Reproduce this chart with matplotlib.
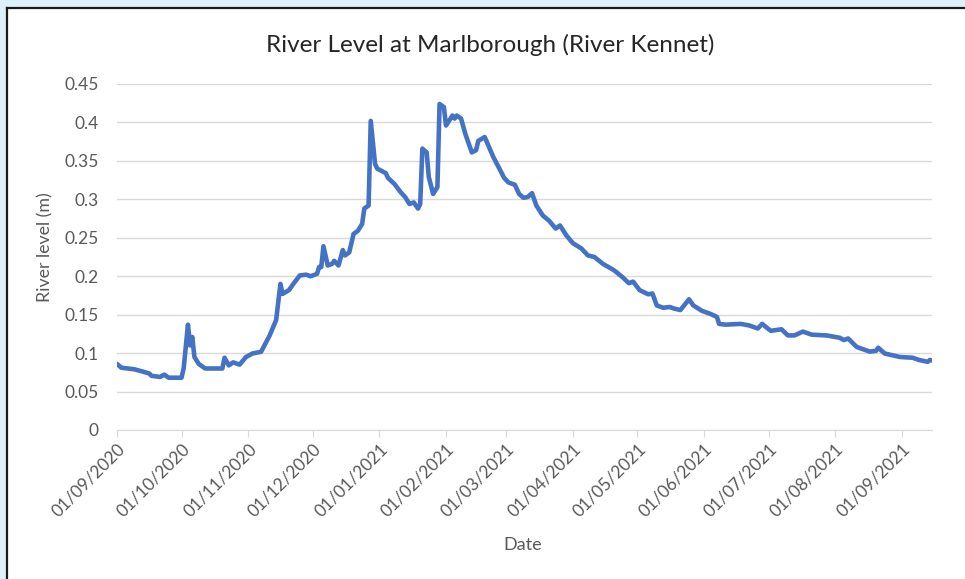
import datetime as dt
import matplotlib
matplotlib.use("Agg")
import matplotlib.pyplot as plt
import matplotlib.dates as mdates
from matplotlib.patches import Rectangle
from matplotlib.lines import Line2D

# days after 01/09/2020, and river level (m)
start = dt.date(2020, 9, 1)
days = [0, 2, 8, 12, 15, 16, 20, 22, 24, 30, 31, 33, 34, 35, 36, 38, 41, 49, 50, 52,
        54, 57, 60, 63, 67, 69, 71, 74, 76, 77, 80, 82, 85, 88, 90, 93, 94, 95, 96, 98,
        100, 101, 103, 105, 106, 108, 110, 112, 114, 115, 117, 118, 120, 121, 125, 126, 129, 132, 134, 136,
        138, 140, 141, 142, 144, 145, 147, 149, 150, 152, 153, 156, 157, 158, 160, 162, 165, 167, 168, 171,
        173, 175, 178, 180, 182, 185, 187, 189, 191, 193, 195, 198, 201, 204, 206, 209, 212, 216, 219, 222,
        226, 231, 235, 238, 240, 243, 247, 249, 251, 254, 257, 259, 262, 266, 268, 272, 276, 279, 280, 283,
        290, 294, 298, 300, 304, 309, 312, 315, 319, 323, 330, 336, 338, 340, 344, 350, 353, 354, 357, 364,
        370, 373, 377, 378, 380]
levels = [0.086, 0.081, 0.079, 0.076, 0.0735, 0.0705, 0.069, 0.072, 0.068, 0.068, 0.080, 0.137, 0.110, 0.121, 0.095, 0.086, 0.080, 0.080, 0.094, 0.084,
          0.088, 0.085, 0.095, 0.0995, 0.1017, 0.1125, 0.123, 0.143, 0.190, 0.177, 0.182, 0.190, 0.201, 0.202, 0.200, 0.203, 0.212, 0.212, 0.239, 0.214,
          0.216, 0.220, 0.214, 0.234, 0.227, 0.231, 0.255, 0.259, 0.268, 0.288, 0.292, 0.402, 0.346, 0.340, 0.334, 0.328, 0.320, 0.309, 0.303, 0.294,
          0.296, 0.288, 0.294, 0.366, 0.361, 0.329, 0.307, 0.316, 0.424, 0.420, 0.396, 0.409, 0.405, 0.409, 0.405, 0.385, 0.361, 0.364, 0.376, 0.381,
          0.368, 0.355, 0.339, 0.328, 0.322, 0.319, 0.307, 0.302, 0.303, 0.308, 0.292, 0.279, 0.272, 0.262, 0.266, 0.253, 0.243, 0.236, 0.227, 0.225,
          0.216, 0.208, 0.199, 0.191, 0.193, 0.182, 0.1765, 0.1775, 0.162, 0.159, 0.160, 0.158, 0.156, 0.170, 0.162, 0.155, 0.151, 0.147, 0.138, 0.137,
          0.138, 0.136, 0.132, 0.138, 0.129, 0.131, 0.123, 0.123, 0.128, 0.124, 0.123, 0.120, 0.117, 0.119, 0.108, 0.102, 0.103, 0.107, 0.0995, 0.095,
          0.094, 0.091, 0.0887, 0.091, 0.090]
yticks = [0, 0.05, 0.1, 0.15, 0.2, 0.25, 0.3, 0.35, 0.4, 0.45]
ytick_labels = ["0", "0.05", "0.1", "0.15", "0.2", "0.25", "0.3", "0.35", "0.4", "0.45"]

dates = [start + dt.timedelta(days=d) for d in days]

plt.rcParams['font.family'] = ['Lato', 'DejaVu Sans']
grey = '#595959'
W, H = 965, 579

fig = plt.figure(figsize=(W / 100, H / 100), dpi=100)
fig.patch.set_facecolor('#DEF0FA')
# white chart box with dark border on the visible left/top edges
fig.patches.append(Rectangle((6 / W, -0.1), 1.1, 1 - 8 / H + 0.1, transform=fig.transFigure,
                             facecolor='white', edgecolor='none', zorder=-5))
fig.lines.append(Line2D([7 / W, 7 / W], [0, 1 - 8 / H], transform=fig.transFigure, color='#1a1a1a', lw=1.6, zorder=-4))
fig.lines.append(Line2D([7 / W, 1], [1 - 8 / H, 1 - 8 / H], transform=fig.transFigure, color='#1a1a1a', lw=1.6, zorder=-4))

ax = fig.add_axes([117 / W, 1 - 430 / H, (932 - 117) / W, (430 - 84) / H], zorder=2)
ax.set_facecolor('none')
ax.plot(dates, levels, color='#4472C4', lw=3.3, solid_joinstyle='round', solid_capstyle='round', zorder=3)

ax.set_ylim(0, 0.45)
ax.set_xlim(start, dt.date(2021, 9, 15))
ax.set_yticks(yticks)
ax.set_yticklabels(ytick_labels)
ax.yaxis.grid(True, color='#D9D9D9', lw=1.0)
ax.set_axisbelow(True)

xt = [dt.date(2020 + (8 + i) // 12, (8 + i) % 12 + 1, 1) for i in range(13)]
ax.set_xticks(xt)
ax.xaxis.set_major_formatter(mdates.DateFormatter('%d/%m/%Y'))
for s in ['top', 'right', 'left']:
    ax.spines[s].set_visible(False)
ax.spines['bottom'].set_color('#D9D9D9')
ax.tick_params(axis='y', length=0, pad=13, labelsize=12.5, labelcolor=grey)
ax.tick_params(axis='x', length=5, color='#D9D9D9', pad=3, labelsize=12.5, labelcolor=grey)
plt.setp(ax.get_xticklabels(), rotation=45, ha='right', rotation_mode='anchor')

fig.text(490 / W, 1 - 45 / H, 'River Level at Marlborough (River Kennet)', fontsize=17.5,
         color='#262626', ha='center', va='center')
fig.text(45 / W, 1 - 247 / H, 'River level (m)', fontsize=12.8, color=grey,
         rotation=90, ha='center', va='center')
fig.text(523 / W, 1 - 545 / H, 'Date', fontsize=13, color=grey, ha='center', va='center')

fig.savefig('out.png', dpi=100, facecolor=fig.get_facecolor())
